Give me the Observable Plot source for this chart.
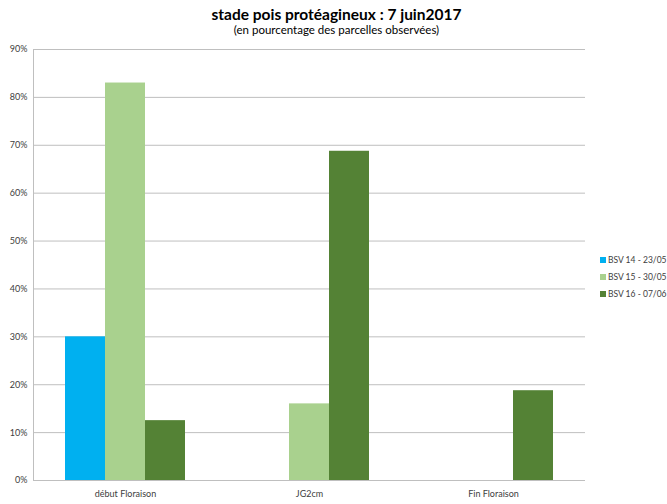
<!DOCTYPE html>
<html>
<head>
<meta charset="utf-8">
<script src="https://cdn.jsdelivr.net/npm/d3@7"></script>
<script src="https://cdn.jsdelivr.net/npm/@observablehq/plot@0.6"></script>
<style>
  body { margin: 0; background: #fff; font-family: Lato, "Open Sans", sans-serif; }
  #wrap { position: relative; width: 667px; height: 504px; overflow: hidden; }
  #title { position: absolute; top: 5px; left: 3px; width: 667px; text-align: center; font-weight: bold; font-size: 15.5px; color: #000; }
  #subtitle { position: absolute; top: 23px; left: 3px; width: 667px; text-align: center; font-size: 11.5px; color: #000; }
  #chart { position: absolute; top: 40px; left: 0; }
  #legend { position: absolute; left: 600px; top: 251px; font-size: 8.5px; color: #404040; }
  .item { height: 17px; display: flex; align-items: center; white-space: nowrap; }
  .sw { width: 6px; height: 6px; margin-right: 2px; display: inline-block; flex: none; }
</style>
</head>
<body>
<div id="wrap">
  <div id="title"></div>
  <div id="subtitle"></div>
  <div id="chart"></div>
  <div id="legend"></div>
</div>
<script>
const titleText = "stade pois protéagineux : 7 juin2017";
const subtitleText = "(en pourcentage des parcelles observées)";
const stades = ["début Floraison", "JG2cm", "Fin Floraison"];
const series = ["BSV 14 - 23/05", "BSV 15 - 30/05", "BSV 16 - 07/06"];
const colors = ["#00b0f0", "#a9d18e", "#548235"];
const bsv14 = [30, 0, 0];
const bsv15 = [83, 16, 0];
const bsv16 = [12.5, 68.75, 18.75];
const yTicks = [0, 10, 20, 30, 40, 50, 60, 70, 80, 90];

const values = [bsv14, bsv15, bsv16];
const data = [];
series.forEach((s, i) => stades.forEach((st, j) => {
  if (values[i][j] > 0) data.push({stade: st, serie: s, value: values[i][j]});
}));

document.getElementById("title").textContent = titleText;
document.getElementById("subtitle").textContent = subtitleText;

const chart = Plot.plot({
  width: 667,
  height: 464,
  marginTop: 9,
  marginBottom: 24,
  marginLeft: 33,
  marginRight: 82,
  style: {fontFamily: "Lato, 'Open Sans', sans-serif", fontSize: "9px", color: "#404040", background: "transparent"},
  fx: {domain: stades, padding: 0, label: null},
  x: {domain: series, axis: null, paddingInner: 0, paddingOuter: 0.744},
  y: {domain: [0, 90], label: null},
  color: {domain: series, range: colors},
  marks: [
    Plot.gridY(yTicks, {stroke: "#bfbfbf", strokeOpacity: 1}),
    Plot.frame({anchor: "left", stroke: "#bfbfbf", facetAnchor: "left"}),
    Plot.axisY(yTicks, {tickSize: 0, tickPadding: 6, tickFormat: d => d + "%", label: null}),
    Plot.axisFx({anchor: "bottom", tickSize: 0, tickPadding: 10, label: null}),
    Plot.barY(data, {fx: "stade", x: "serie", y: "value", fill: "serie"})
  ]
});
document.getElementById("chart").appendChild(chart);

const legend = document.getElementById("legend");
series.forEach((s, i) => {
  const item = document.createElement("div");
  item.className = "item";
  const sw = document.createElement("span");
  sw.className = "sw";
  sw.style.background = colors[i];
  const t = document.createElement("span");
  t.textContent = s;
  item.appendChild(sw);
  item.appendChild(t);
  legend.appendChild(item);
});
</script>
</body>
</html>
